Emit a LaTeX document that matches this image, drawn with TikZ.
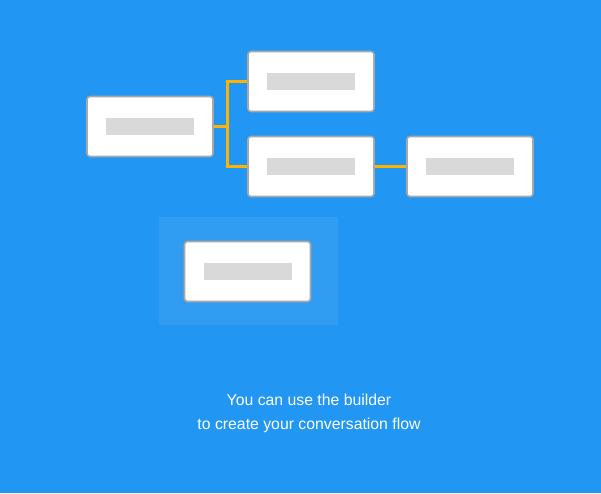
\documentclass[tikz,border=0pt]{standalone}
\usepackage{fontspec}
\setmainfont{Liberation Sans}
\usetikzlibrary{positioning}
\definecolor{bgblue}{RGB}{33,150,243}
\definecolor{linkorange}{RGB}{255,179,0}
\definecolor{boxgray}{RGB}{168,168,168}
\definecolor{bargray}{RGB}{217,217,217}
\tikzset{
    %flow card and its grey placeholder
    card/.style={draw=boxgray, line width=1.6pt, fill=white, rounded corners=3pt,
                 minimum width=126pt, minimum height=60pt, inner sep=0pt},
    bar/.style={fill=bargray, minimum width=88pt, minimum height=17pt, inner sep=0pt},
}
\begin{document}
\begin{tikzpicture}[
  x=1pt, y=-1pt,
  link/.style = {draw=linkorange, line width=3pt},
  caption/.style = {text=white, font=\fontsize{15.8}{24}\selectfont, align=center} ]
  \fill[bgblue] (0,0) rectangle (601,493);
  \useasboundingbox (0,0) rectangle (601,493);
  \fill[white, opacity=0.07] (159,217) rectangle (338,325);
  \node[card] (root) at (150,126.5) {};
  \node[card] (up) at (311,81.5) {};
  \node[card] (down) at (311,166.5) {};
  \node[card] (next) at (470,166.5) {};
  \node[card] (drag) at (247.5,271.5) {};
  \foreach \n in {root,up,down,next,drag}
    \node[bar] (\n bar) at (\n) {};
  \coordinate (split) at (227,126.5);
  \draw[link] (root.east) -- (split);
  \draw[link] (split) |- (up.west);
  \draw[link] (split) |- (down.west);
  \draw[link] (down.east) -- (next.west);
  \node[caption] (msg) at (309,413) {You can use the builder\\to create your conversation flow};
\end{tikzpicture}
\end{document}
